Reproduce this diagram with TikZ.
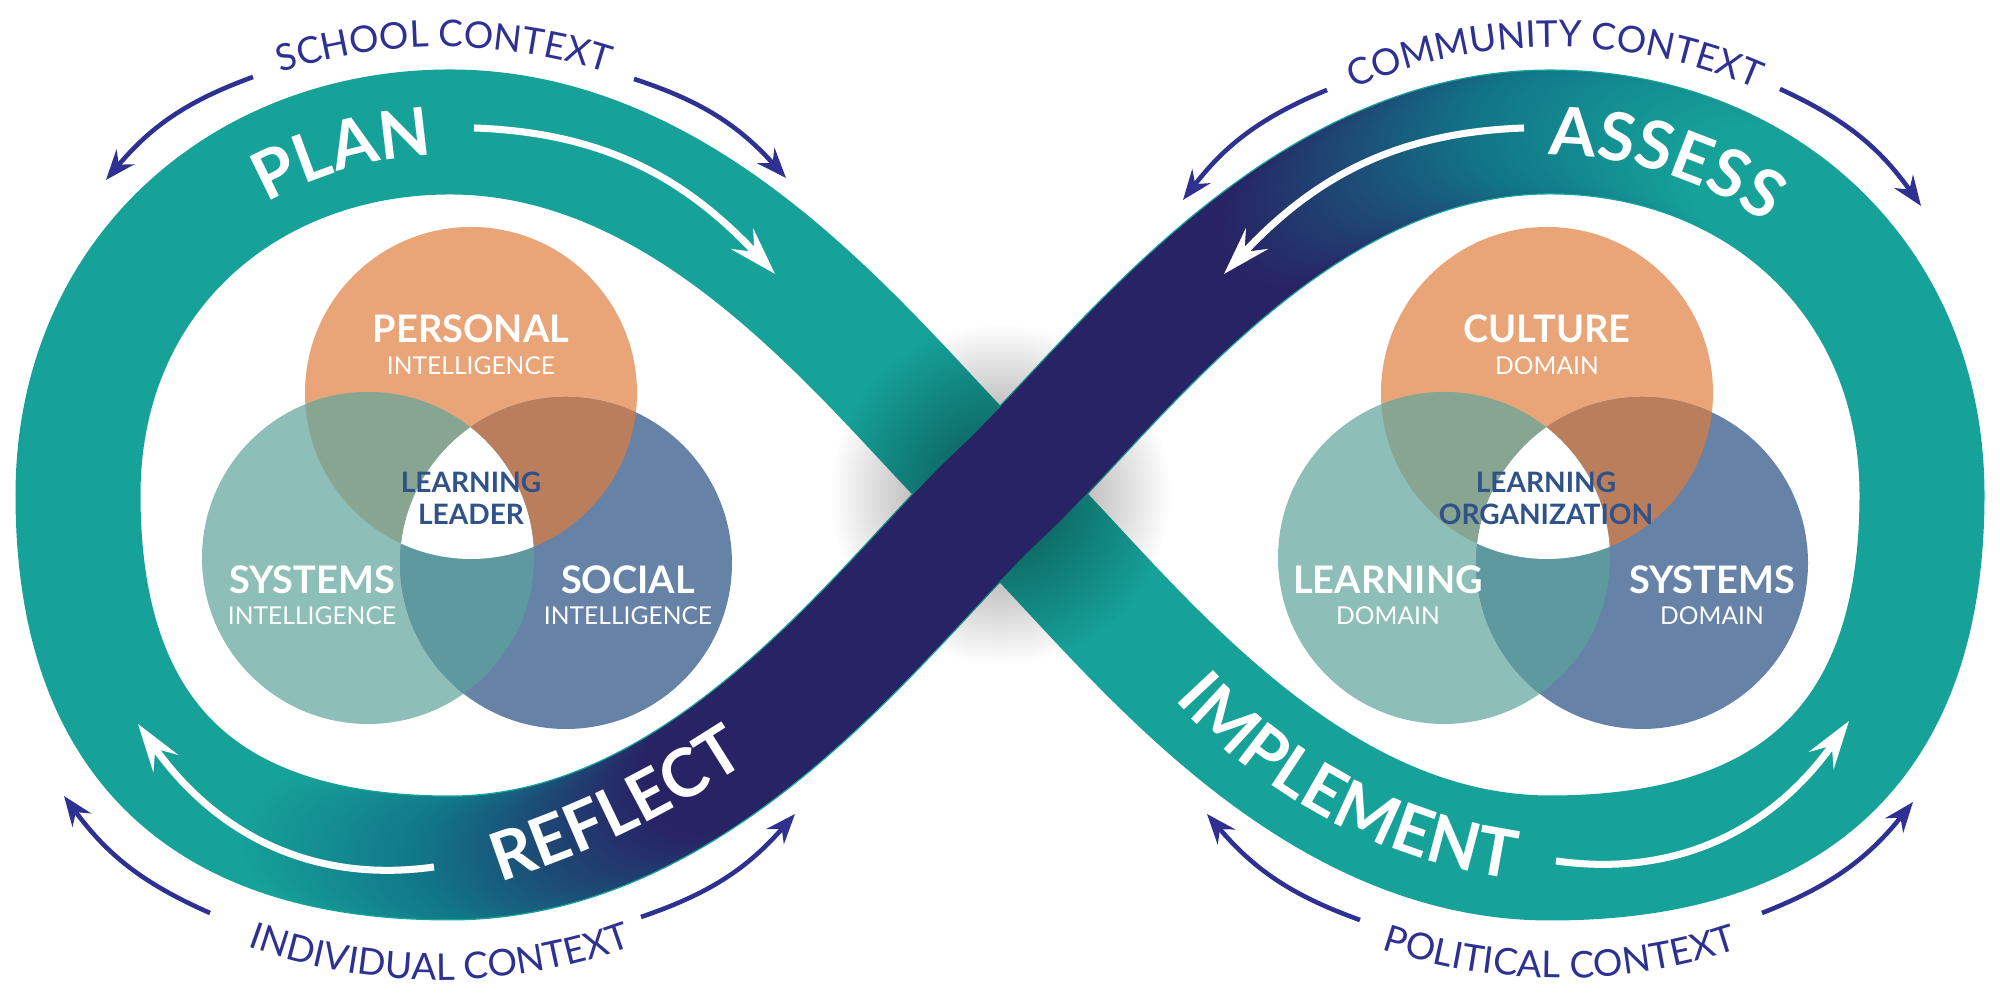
\documentclass[tikz,border=0pt]{standalone}
\usepackage{fontspec}
\setmainfont{Lato}
\usetikzlibrary{arrows.meta, decorations.markings, decorations.text, fadings}
\definecolor{TealBand}{RGB}{22,161,153}
\definecolor{DeepTeal}{RGB}{17,118,136}
\definecolor{NavyBand}{RGB}{40,35,101}
\definecolor{CtxNavy}{RGB}{46,49,146}
\definecolor{VOrange}{RGB}{233,164,120}
\definecolor{VTeal}{RGB}{141,191,184}
\definecolor{VBlue}{RGB}{102,131,167}
\definecolor{VOrTe}{RGB}{135,165,144}
\definecolor{VOrBl}{RGB}{187,126,92}
\definecolor{VTeBl}{RGB}{94,153,160}
\definecolor{CoreBlue}{RGB}{47,82,137}
\newcommand{\bandfont}{\fontsize{19}{22}\selectfont\bfseries}
\newcommand{\ctxfont}{\fontsize{10.5}{12}\selectfont}
\tikzfading[name=crossfade, inner color=transparent!50, outer color=transparent!100]

\begin{document}
\begin{tikzpicture}[loopband/.style={draw=TealBand, line width=1.25cm},
  colorband/.style={decoration={markings, mark=between positions 0 and 1 step 1.2pt with {%
      \pgfgettransformentries{\trA}{\trB}{\trC}{\trD}{\trX}{\trY}%
      \pgfmathsetmacro\bandx{\trX/28.45274}%
      \pgfmathsetmacro\bandt{min(1,max(0,(\bandx-3.0)/4.0),max(0,(17.5-\bandx)/4.7))}%
      \pgfmathsetmacro\deepshare{min(100,\bandt/0.45*100)}%
      \pgfmathsetmacro\navyshare{max(0,(\bandt-0.45)/0.55*100)}%
      \colorlet{bandmix}{NavyBand!\navyshare!DeepTeal!\deepshare!TealBand}%
      \fill[bandmix] (0,0) circle (0.61);}}, decorate},
  bandlabel/.style={decoration={text along path, text align=center, text color=white, text={|\bandfont|#1}}, decorate},
  ctxlabel/.style={decoration={text along path, text align=center, text color=CtxNavy, text={|\ctxfont|#1}}, decorate},
  flowarrow/.style={white, line width=2pt, -{Stealth[length=4.8mm, width=3mm, inset=1.8mm]}},
  ctxarrow/.style={CtxNavy, line width=1.3pt, -{Stealth[length=3mm, width=2.3mm, inset=1mm]}},
  vhead/.style={text=white, font=\fontsize{10.8}{12}\selectfont\bfseries, inner sep=0pt},
  vsub/.style={text=white, font=\fontsize{7}{8}\selectfont, inner sep=0pt},
  vcore/.style={text=CoreBlue, font=\fontsize{8}{9}\selectfont\bfseries, inner sep=0pt}]
\fill[white] (0,0) rectangle (20,10);
\useasboundingbox (0,0) rectangle (20,10);
% loop points
\coordinate (C) at (10,5.06);
\coordinate (TL) at (4.5,8.68); \coordinate (L) at (0.78,5.05); \coordinate (BL) at (4.5,1.42);
\coordinate (TR) at (15.5,8.68); \coordinate (R) at (19.22,5.05); \coordinate (BR) at (15.5,1.42);
% teal loop
\draw[loopband] (C) .. controls (8.9,6.08) and (7.1,8.68) .. (TL)
  .. controls (2.45,8.68) and (0.78,7.25) .. (L)
  .. controls (0.78,2.55) and (2.1,1.42) .. (BL)
  .. controls (7.1,1.42) and (8.9,4.04) .. (C)
  .. controls (11.1,6.08) and (12.9,8.68) .. (TR)
  .. controls (17.55,8.68) and (19.22,7.25) .. (R)
  .. controls (19.22,2.55) and (17.9,1.42) .. (BR)
  .. controls (12.9,1.42) and (11.1,4.04) .. (C);
% shadow under the crossing strand
\fill[black, path fading=crossfade] (C) circle (1.7);
% shaded strand on top
\path[colorband] (L) .. controls (0.78,2.55) and (2.1,1.42) .. (BL)
  .. controls (7.1,1.42) and (8.9,4.04) .. (C)
  .. controls (11.1,6.08) and (12.9,8.68) .. (TR)
  .. controls (17.55,8.68) and (19.22,7.25) .. (R);
% venn diagrams
\foreach \sx in {0,10.76} {
  \begin{scope}[xshift=\sx cm]
    \coordinate (vo) at (4.71,6.07); \coordinate (vt) at (3.68,4.42); \coordinate (vb) at (5.66,4.37);
    \fill[VOrange] (vo) circle (1.66);
    \fill[VTeal] (vt) circle (1.66);
    \fill[VBlue] (vb) circle (1.66);
    \begin{scope}
      \clip (vo) circle (1.66);
      \fill[VOrTe] (vt) circle (1.66);
      \fill[VOrBl] (vb) circle (1.66);
    \end{scope}
    \begin{scope}
      \clip (vt) circle (1.66);
      \fill[VTeBl] (vb) circle (1.66);
      \clip (vb) circle (1.66);
      \fill[white] (vo) circle (1.66);
    \end{scope}
  \end{scope}
}
\node[vhead] (personal) at (4.71,6.71) {PERSONAL};
\node[vsub] (personalsub) at (4.71,6.34) {INTELLIGENCE};
\node[vhead] (systems) at (3.12,4.2) {SYSTEMS};
\node[vsub] (systemssub) at (3.12,3.84) {INTELLIGENCE};
\node[vhead] (social) at (6.28,4.2) {SOCIAL};
\node[vsub] (socialsub) at (6.28,3.84) {INTELLIGENCE};
\node[vcore] (leader1) at (4.71,5.18) {LEARNING};
\node[vcore] (leader2) at (4.71,4.86) {LEADER};
\node[vhead] (culture) at (15.47,6.71) {CULTURE};
\node[vsub] (culturesub) at (15.47,6.34) {DOMAIN};
\node[vhead] (learning) at (13.88,4.2) {LEARNING};
\node[vsub] (learningsub) at (13.88,3.84) {DOMAIN};
\node[vhead] (sysdom) at (17.12,4.2) {SYSTEMS};
\node[vsub] (sysdomsub) at (17.12,3.84) {DOMAIN};
\node[vcore] (org1) at (15.46,5.18) {LEARNING};
\node[vcore] (org2) at (15.46,4.86) {ORGANIZATION};
% band labels
\coordinate (planc) at (4.5,4.7); \coordinate (assessc) at (15.5,4.7); \coordinate (implc) at (15.91,6.75);
\path[bandlabel=PLAN] ([shift={(140:3.75)}]planc) arc[start angle=140, end angle=72, radius=3.75];
\path[bandlabel=ASSESS] ([shift={(105:3.75)}]assessc) arc[start angle=105, end angle=40, radius=3.75];
\path[bandlabel=REFLECT] (4.7,1.08) to[bend right=8] (7.75,2.55);
\path[bandlabel=IMPLEMENT] ([shift={(212:5.6)}]implc) arc[start angle=212, end angle=272, radius=5.6];
% flow arrows
\coordinate (pa1) at (4.74,8.72); \coordinate (pa2) at (7.75,7.26);
\coordinate (aa1) at (15.24,8.72); \coordinate (aa2) at (12.24,7.26);
\coordinate (ra1) at (4.34,1.33); \coordinate (ra2) at (1.38,2.76);
\coordinate (ia1) at (15.56,1.39); \coordinate (ia2) at (18.49,2.79);
\draw[flowarrow] (pa1) to[out=-2, in=133] (pa2);
\draw[flowarrow] (aa1) to[out=182, in=47] (aa2);
\draw[flowarrow] (ra1) to[out=188, in=-55] (ra2);
\draw[flowarrow] (ia1) to[out=-8, in=235] (ia2);
% context labels
\coordinate (schc) at (4.44,4.23); \coordinate (comc) at (15.55,4.53);
\coordinate (indc) at (4.4,5.8); \coordinate (polc) at (15.6,5.82);
\path[ctxlabel={SCHOOL CONTEXT}] ([shift={(125:5.3)}]schc) arc[start angle=125, end angle=55, radius=5.3];
\path[ctxlabel={COMMUNITY CONTEXT}] ([shift={(130:5)}]comc) arc[start angle=130, end angle=50, radius=5];
\path[ctxlabel={INDIVIDUAL CONTEXT}] ([shift={(235:5.6)}]indc) arc[start angle=235, end angle=305, radius=5.6];
\path[ctxlabel={POLITICAL CONTEXT}] ([shift={(235:5.6)}]polc) arc[start angle=235, end angle=305, radius=5.6];
% context arrows
\coordinate (sc1) at (2.53,9.23); \coordinate (sc2) at (1.06,8.2);
\coordinate (sc3) at (6.34,9.21); \coordinate (sc4) at (7.86,8.22);
\coordinate (cc1) at (13.27,9.1); \coordinate (cc2) at (11.83,8.0);
\coordinate (cc3) at (17.8,9.11); \coordinate (cc4) at (19.21,7.94);
\coordinate (ic1) at (2.1,0.87); \coordinate (ic2) at (0.64,2.04);
\coordinate (ic3) at (6.41,0.83); \coordinate (ic4) at (7.95,1.86);
\coordinate (pc1) at (13.6,0.8); \coordinate (pc2) at (12.07,1.86);
\coordinate (pc3) at (17.62,0.87); \coordinate (pc4) at (19.13,1.98);
\draw[ctxarrow] (sc1) to[bend right=15] (sc2);
\draw[ctxarrow] (sc3) to[bend left=15] (sc4);
\draw[ctxarrow] (cc1) to[bend right=15] (cc2);
\draw[ctxarrow] (cc3) to[bend left=15] (cc4);
\draw[ctxarrow] (ic1) to[bend left=15] (ic2);
\draw[ctxarrow] (ic3) to[bend right=15] (ic4);
\draw[ctxarrow] (pc1) to[bend left=15] (pc2);
\draw[ctxarrow] (pc3) to[bend right=15] (pc4);
\end{tikzpicture}
\end{document}
